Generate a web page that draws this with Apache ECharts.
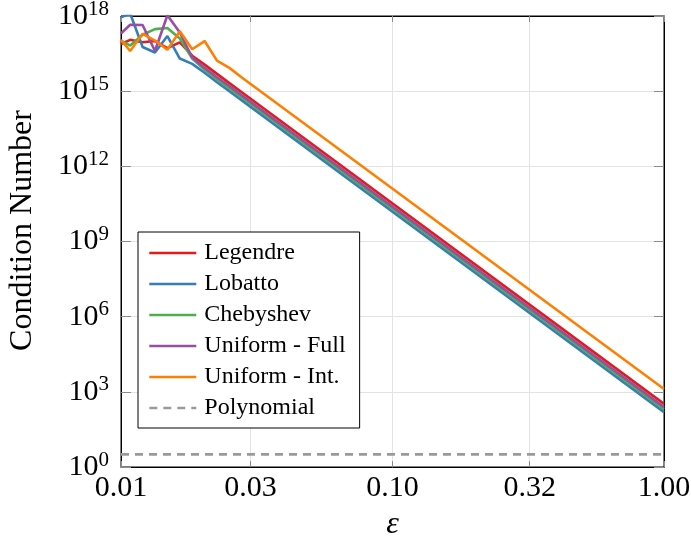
<!DOCTYPE html>
<html>
<head>
<meta charset="utf-8">
<script src="https://cdn.jsdelivr.net/npm/echarts@6/dist/echarts.min.js"></script>
<style>
  html, body { margin: 0; padding: 0; background: #fff; }
  #chart { width: 691px; height: 540px; }
</style>
</head>
<body>
<div id="chart"></div>
<script>
// epsilon samples (the curves are straight on log-log past ~0.028)
const eps = [0.01, 0.01081, 0.01201, 0.01334, 0.01482, 0.01647, 0.01829, 0.02032, 0.02257, 0.02507, 0.02786, 1.0];

const legendre  = [7.6e16, 1.12e17, 8.9e16, 1.0e17, 5.2e16, 8.9e16, 2.6e16, 1.15e16, 4.9e15, 2.1e15, 9.1e14, 331];
const lobatto   = [8.9e17, 1.26e18, 5.8e16, 3.5e16, 1.58e17, 2.0e16, 1.23e16, 5.4e15, 2.3e15, 1.0e15, 4.3e14, 155];
const chebyshev = [1.05e17, 6.6e16, 1.78e17, 3.0e17, 3.3e17, 1.26e17, 2.0e16, 7.1e15, 3.0e15, 1.3e15, 5.6e14, 204];
const uniFull   = [2.0e17, 4.5e17, 4.4e17, 4.0e16, 1.07e18, 2.2e17, 2.2e16, 8.5e15, 3.6e15, 1.6e15, 6.8e14, 245];
const uniInt    = [1.12e17, 4.0e16, 1.95e17, 1.05e17, 4.5e16, 2.45e17, 4.7e16, 1.0e17, 1.66e16, 8.5e15, 3.5e15, 1290];

const polyEps = [0.01, 1.0];
const polynomial = [3.2, 3.2];

const xTicks = [0.01, 0.03, 0.1, 0.32, 1.0];
const yTicks = [1, 1e3, 1e6, 1e9, 1e12, 1e15, 1e18];

const font = '"Liberation Serif", "DejaVu Serif", serif';
const tickGray = "#8c8c8c";
const gridGray = "#e3e3e3";

function pairs(xs, ys) {
  return xs.map((x, i) => [x, ys[i]]);
}

function curve(name, color, xs, ys, dashed) {
  return {
    name: name,
    type: "line",
    data: pairs(xs, ys),
    symbol: "none",
    clip: true,
    color: color,
    lineStyle: { color: color, width: 2.6, type: dashed ? [8, 6] : "solid" }
  };
}

const chart = echarts.init(document.getElementById("chart"));

chart.setOption({
  animation: false,
  textStyle: { fontFamily: font },
  grid: {
    left: 121, right: 27, top: 16, bottom: 73,
    containLabel: false,
    outerBoundsMode: "none",
    show: true, borderColor: "#000", borderWidth: 1
  },
  legend: {
    orient: "vertical",
    left: 138,
    top: 232,
    padding: [9, 14, 8, 10],
    itemWidth: 47,
    itemHeight: 22,
    itemGap: 7,
    borderColor: "#000",
    borderWidth: 1,
    backgroundColor: "#fff",
    itemStyle: { opacity: 0 },
    lineStyle: { width: 2.6 },
    textStyle: { fontFamily: font, fontSize: 24, lineHeight: 22, color: "#000", padding: [0, 0, 0, 3] },
    data: ["Legendre", "Lobatto", "Chebyshev", "Uniform - Full", "Uniform - Int.", "Polynomial"]
  },
  xAxis: [
    {
      type: "log",
      min: 0.01,
      max: 1,
      name: "ε",
      nameLocation: "middle",
      nameGap: 42,
      nameTextStyle: { fontFamily: font, fontSize: 32, fontStyle: "italic", color: "#000" },
      axisLine: { lineStyle: { color: "#000", width: 1 } },
      axisTick: { inside: true, length: 6, customValues: xTicks, lineStyle: { color: tickGray } },
      axisLabel: {
        customValues: xTicks,
        showMinLabel: true,
        showMaxLabel: true,
        margin: 6,
        fontFamily: font,
        fontSize: 30,
        color: "#000",
        formatter: v => v.toFixed(2)
      },
      splitLine: { show: true, lineStyle: { color: gridGray, width: 1 } }
    },
    {
      type: "log",
      position: "top",
      min: 0.01,
      max: 1,
      axisLine: { lineStyle: { color: "#000", width: 1 } },
      axisTick: { inside: true, length: 6, customValues: xTicks, lineStyle: { color: tickGray } },
      axisLabel: { show: false },
      splitLine: { show: false }
    }
  ],
  yAxis: [
    {
      type: "log",
      min: 1,
      max: 1.0000001e18,
      name: "Condition Number",
      nameLocation: "middle",
      nameGap: 82,
      nameTextStyle: { fontFamily: font, fontSize: 32, color: "#000", padding: [0, 0, 0, 22] },
      axisLine: { lineStyle: { color: "#000", width: 1 } },
      axisTick: { inside: true, length: 10, customValues: yTicks, lineStyle: { color: tickGray } },
      axisLabel: {
        customValues: yTicks,
        showMinLabel: true,
        showMaxLabel: true,
        margin: 12,
        color: "#000",
        formatter: v => "{b|10}{s|" + Math.round(Math.log10(v)) + "}",
        rich: {
          b: { fontFamily: font, fontSize: 30, color: "#000" },
          s: { fontFamily: font, fontSize: 21, color: "#000", padding: [0, 0, 14, 0] }
        }
      },
      splitLine: { show: true, lineStyle: { color: gridGray, width: 1 } }
    },
    {
      type: "log",
      position: "right",
      min: 1,
      max: 1.0000001e18,
      axisLine: { lineStyle: { color: "#000", width: 1 } },
      axisTick: { inside: true, length: 10, customValues: yTicks, lineStyle: { color: tickGray } },
      axisLabel: { show: false },
      splitLine: { show: false }
    }
  ],
  series: [
    curve("Legendre", "#e41a1c", eps, legendre),
    curve("Lobatto", "#377eb8", eps, lobatto),
    curve("Chebyshev", "#4daf4a", eps, chebyshev),
    curve("Uniform - Full", "#984ea3", eps, uniFull),
    curve("Uniform - Int.", "#ff7f00", eps, uniInt),
    curve("Polynomial", "#9a9a9a", polyEps, polynomial, true)
  ]
});

window.addEventListener("resize", () => chart.resize());
</script>
</body>
</html>
